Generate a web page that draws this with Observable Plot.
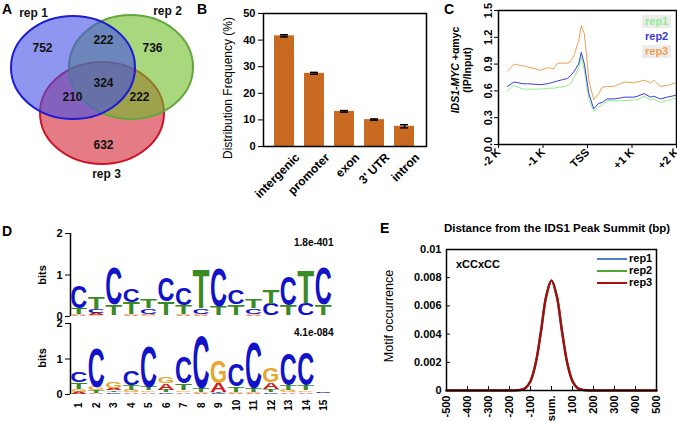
<!DOCTYPE html>
<html><head><meta charset="utf-8">
<script src="https://cdn.jsdelivr.net/npm/d3@7"></script>
<script src="https://cdn.jsdelivr.net/npm/@observablehq/plot@0.6"></script>
<style>
body{margin:0;background:#fff;}
#c{position:relative;width:677px;height:422px;overflow:hidden;background:#fff;font-family:"Liberation Sans",Arial,sans-serif;color:#000;}
.p{position:absolute;}
.t{position:absolute;line-height:1;white-space:nowrap;}
.rot{position:absolute;transform:translate(-50%,-50%) rotate(-90deg);white-space:nowrap;line-height:1.1;text-align:center;}
</style></head><body><div id="c"></div>
<script>
// ---------- DATA ----------
// A: Venn of peaks
const vennSets = ["rep 1", "rep 2", "rep 3"];
const vennCounts = [752, 222, 736, 324, 210, 222, 632]; // 1 only, 1&2, 2 only, all, 1&3, 2&3, 3 only

// B: genomic distribution
const regions = ["intergenic", "promoter", "exon", "3' UTR", "intron"];
const freq = [41.6, 27.5, 13.2, 10.1, 7.6];
const freqErr = [0.4, 0.35, 0.3, 0.25, 0.6];

// C: profile around TSS
const tssTicks = [-2000, -1000, 0, 1000, 2000];
const tssTickLabels = ["-2 K", "-1 K", "TSS", "+1 K", "+2 K"];
const tssPos = [-1800,-1650,-1450,-1350,-1050,-900,-750,-680,-600,-450,-380,-300,-200,-140,-70,30,140,250,330,440,590,740,820,1040,1120,1270,1420,1490,1640,1790,1980];
const profRep1 = [0.60,0.66,0.62,0.62,0.62,0.63,0.63,0.64,0.64,0.66,0.68,0.75,0.85,0.98,0.83,0.51,0.37,0.42,0.44,0.49,0.49,0.49,0.49,0.50,0.50,0.54,0.50,0.51,0.47,0.49,0.52];
const profRep2 = [0.65,0.70,0.68,0.68,0.67,0.68,0.70,0.71,0.72,0.74,0.77,0.82,0.90,1.03,0.90,0.57,0.40,0.46,0.47,0.51,0.51,0.52,0.53,0.53,0.54,0.57,0.53,0.54,0.51,0.53,0.55];
const profRep3 = [0.82,0.90,0.88,0.87,0.83,0.86,0.85,0.91,0.91,0.91,0.93,1.00,1.16,1.33,1.24,0.72,0.50,0.57,0.64,0.65,0.65,0.68,0.70,0.69,0.70,0.72,0.69,0.72,0.65,0.66,0.69];

// D: motif logos (bits per letter, positions 1..15)
const logo1A = [.02,.05,.01,.02,.03,.01,.02,.03,.01,.01,.03,.01,.01,.01,.01];
const logo1C = [.55,.08,.90,.32,.14,.59,.40,.14,.93,.36,.13,.28,.70,.30,.90];
const logo1G = [.03,.03,.01,.02,.02,.01,.03,.03,.01,.01,.03,.01,.01,.01,.01];
const logo1T = [.15,.28,.26,.30,.22,.33,.22,.96,.22,.27,.22,.34,.24,.79,.26];
const logo1E = "1.8e-401";
const logo2A = [.07,.03,.08,.05,.05,.19,.05,.03,.25,.03,.03,.20,.05,.05,.02];
const logo2C = [.28,1.13,.05,.42,1.15,.05,.75,1.50,.03,.65,1.32,.05,.90,.95,.02];
const logo2G = [.08,.10,.19,.07,.05,.20,.05,.03,.65,.04,.03,.40,.06,.05,.01];
const logo2T = [.20,.07,.05,.14,.10,.07,.20,.10,.03,.15,.12,.08,.15,.15,.01];
const logo2E = "4.1e-084";

// E: motif occurrence vs distance from summit
const distTicks = [-500,-400,-300,-200,-100,0,100,200,300,400,500];
const distPts = [-500,-200,-150,-125,-100,-75,-50,-25,0,25,50,75,100,125,150,200,500];
const occRep1 = [0,0,0.00003,0.00017,0.00067,0.00197,0.0042,0.0067,0.0078,0.0067,0.0042,0.00197,0.00067,0.00017,0.00003,0,0];
const occRep2 = [0,0,0.00003,0.00016,0.00066,0.00196,0.0042,0.0067,0.0078,0.0067,0.0042,0.00196,0.00066,0.00016,0.00003,0,0];
const occRep3 = [0,0,0.00003,0.00016,0.00066,0.00195,0.0042,0.0067,0.0078,0.0067,0.0042,0.00195,0.00066,0.00016,0.00003,0,0];
const occTicks = [0,0.002,0.004,0.006,0.008,0.01];

// ---------- LAYOUT / STYLE ----------
const C = document.getElementById("c");
const FONT = "'Liberation Sans', Arial, sans-serif";
const baseStyle = {fontFamily: FONT, fontSize: "11px", fontWeight: "bold", background: "transparent", overflow: "visible", color: "#000"};
function place(el, left, top) { el.classList.add("p"); el.style.left = left + "px"; el.style.top = top + "px"; C.appendChild(el); return el; }
function html(s, left, top, css) { const d = document.createElement("div"); d.className = "t"; d.innerHTML = s; d.style.left = left + "px"; d.style.top = top + "px"; if (css) d.style.cssText += css; C.appendChild(d); return d; }
function rot(s, cx, cy, css) { const d = document.createElement("div"); d.className = "rot"; d.innerHTML = s; d.style.left = cx + "px"; d.style.top = cy + "px"; if (css) d.style.cssText += css; C.appendChild(d); return d; }

// ---------- A ----------
const vennFill = ["#4450e4", "#6ebc28", "#d42434"];
const vennStroke = ["#1c1cd0", "#62a83c", "#cc1426"];
const vennEllipse = [{cx:73, cy:67.5, rx:62, ry:51.5}, {cx:131, cy:67, rx:62, ry:52}, {cx:102, cy:113, rx:62, ry:51}];
const vennNumPos = [[42,48],[103,40],[152,48],[103,83],[72,97],[139,97],[103,145]];
const vennLabPos = [[33,13],[167,11],[106,174]];
const plotA = Plot.plot({
  width: 200, height: 185, margin: 0,
  style: {...baseStyle},
  x: {domain: [0, 200], range: [0, 200], axis: null},
  y: {domain: [0, 185], range: [0, 185], axis: null},
  marks: [
    (index, scales) => {
      const g = d3.create("svg:g");
      for (const i of [2, 1, 0]) {
        const e = vennEllipse[i];
        g.append("ellipse")
          .attr("cx", scales.x(e.cx)).attr("cy", scales.y(e.cy))
          .attr("rx", scales.x(e.cx + e.rx) - scales.x(e.cx))
          .attr("ry", scales.y(e.cy + e.ry) - scales.y(e.cy))
          .attr("fill", vennFill[i]).attr("fill-opacity", 0.6)
          .attr("stroke", vennStroke[i]).attr("stroke-width", 2);
      }
      return g.node();
    },
    Plot.text(vennCounts, {x: (d, i) => vennNumPos[i][0], y: (d, i) => vennNumPos[i][1], text: d => String(d), fontSize: 12, fill: "#111"}),
    Plot.text(vennSets, {x: (d, i) => vennLabPos[i][0], y: (d, i) => vennLabPos[i][1], text: d => d, fontSize: 12, fill: "#111"})
  ]
});
place(plotA, 0, 0);

// ---------- B ----------
const bRows = regions.map((r, i) => ({region: r, f: freq[i], e: freqErr[i]}));
const plotB = Plot.plot({
  width: 250, height: 200, marginLeft: 83, marginRight: 4, marginTop: 13, marginBottom: 54,
  style: {...baseStyle},
  x: {domain: regions, padding: 0.33, axis: null},
  y: {domain: [0, 50], ticks: [0, 10, 20, 30, 40, 50], tickSize: 5, tickPadding: 3, label: null},
  marks: [
    Plot.barY(bRows, {x: "region", y: "f", fill: "#c96a22"}),
    Plot.ruleX(bRows, {x: "region", y1: d => d.f - d.e, y2: d => d.f + d.e, stroke: "#000", strokeWidth: 1.5}),
    Plot.tickY(bRows, {x: "region", y: d => d.f - d.e, insetLeft: 6, insetRight: 6, stroke: "#000", strokeWidth: 1.5}),
    Plot.tickY(bRows, {x: "region", y: d => d.f + d.e, insetLeft: 6, insetRight: 6, stroke: "#000", strokeWidth: 1.5}),
    Plot.text(bRows, {x: "region", y: 0, text: "region", rotate: -45, textAnchor: "end", dx: 13, dy: 9, fontSize: 12}),
    Plot.frame({stroke: "#000", strokeWidth: 1.5})
  ]
});
place(plotB, 180, 0);

// ---------- C ----------
const cColors = ["#90ee90", "#3c3cd8", "#f0a050"];
const plotC = Plot.plot({
  width: 247, height: 180, marginLeft: 68, marginRight: 1, marginTop: 10, marginBottom: 36,
  style: {...baseStyle},
  x: {domain: [-2000, 2000], ticks: tssTicks, tickFormat: d => tssTickLabels[tssTicks.indexOf(d)], tickRotate: -45, tickSize: 4, tickPadding: 2, label: null},
  y: {domain: [0, 1.5], ticks: [0, 0.3, 0.6, 0.9, 1.2, 1.5], tickFormat: d3.format(".1f"), tickRotate: -90, tickSize: 4, tickPadding: 3, label: null},
  marks: [
    Plot.line(profRep1, {x: (d, i) => tssPos[i], y: d => d, stroke: cColors[0], strokeWidth: 1}),
    Plot.line(profRep2, {x: (d, i) => tssPos[i], y: d => d, stroke: cColors[1], strokeWidth: 1}),
    Plot.line(profRep3, {x: (d, i) => tssPos[i], y: d => d, stroke: cColors[2], strokeWidth: 1}),
    Plot.frame({stroke: "#000", strokeWidth: 1.5})
  ]
});
place(plotC, 430, 0);

// ---------- D ----------
const letterColors = {A: "#d01c1c", C: "#1212c8", G: "#e8a530", T: "#3a8a26"};
function logoRows(A, Cc, G, T) {
  const rows = [];
  for (let i = 0; i < A.length; i++) {
    const items = [["A", A[i]], ["C", Cc[i]], ["G", G[i]], ["T", T[i]]].sort((a, b) => a[1] - b[1]);
    let y = 0;
    for (const [l, h] of items) { rows.push({pos: i + 1, letter: l, y1: y, y2: y + h}); y += h; }
  }
  return rows;
}
function logoMark(rows) {
  return (index, scales) => {
    const g = d3.create("svg:g");
    for (const d of rows) {
      const xc = scales.x(d.pos), yb = scales.y(d.y1), yt = scales.y(d.y2), h = yb - yt;
      if (h < 0.4) continue;
      const fs = 20, cap = 0.72 * fs, w = 17;
      g.append("text")
        .attr("transform", `translate(${xc},${yb}) scale(1,${h / cap})`)
        .attr("x", -w / 2).attr("y", 0)
        .attr("textLength", w).attr("lengthAdjust", "spacingAndGlyphs")
        .style("font-size", fs + "px").style("font-weight", "bold").style("font-family", FONT)
        .attr("text-anchor", "start").attr("fill", letterColors[d.letter]).text(d.letter);
    }
    return g.node();
  };
}
const positions = d3.range(1, 16);
function logoPlot(rows, evalue, h, mb, showX) {
  return Plot.plot({
    width: 340, height: h, marginLeft: 70, marginRight: 8, marginTop: 13, marginBottom: mb,
    style: {...baseStyle, fontSize: "11px"},
    x: {domain: [0.5, 15.5], axis: null},
    y: {domain: [0, 2], ticks: [0, 1, 2], tickFormat: d3.format("d"), tickSize: 5, tickPadding: 3, label: null},
    marks: [
      Plot.ruleX([0.5], {x: d => d, y1: 0, y2: 2, stroke: "#000", strokeWidth: 1.5}),
      logoMark(rows),
      Plot.text([evalue], {frameAnchor: "top-right", text: d => d, dy: 5, dx: 1, fontSize: 10}),
      ...(showX ? [Plot.text(positions, {x: d => d, y: -0.3, text: d => String(d), rotate: -90, fontSize: 10})] : [])
    ]
  });
}
place(logoPlot(logoRows(logo1A, logo1C, logo1G, logo1T), logo1E, 100, 4, false), 0, 220);
place(logoPlot(logoRows(logo2A, logo2C, logo2G, logo2T), logo2E, 112, 28, true), 0, 310);

// ---------- E ----------
const eColors = ["#4f7fc8", "#4ea72e", "#a01010"];
const plotE = Plot.plot({
  width: 307, height: 187, marginLeft: 76, marginRight: 21, marginTop: 14, marginBottom: 32,
  style: {...baseStyle},
  x: {domain: [-500, 500], ticks: distTicks, tickFormat: d => d === 0 ? "sum." : String(d), tickRotate: -90, tickSize: 0, tickPadding: 5, label: null},
  y: {domain: [0, 0.01], ticks: occTicks, tickFormat: d => d === 0 ? "0" : String(+d.toFixed(3)), tickSize: 0, tickPadding: 5, label: null},
  marks: [
    Plot.ruleX(distTicks, {x: d => d, y1: 0, y2: 0.00028, stroke: "#000", strokeWidth: 1}),
    Plot.ruleY(occTicks, {y: d => d, x1: -500, x2: -481, stroke: "#000", strokeWidth: 1}),
    Plot.line(occRep1, {x: (d, i) => distPts[i], y: d => d, stroke: eColors[0], strokeWidth: 2, curve: "catmull-rom"}),
    Plot.line(occRep2, {x: (d, i) => distPts[i], y: d => d, stroke: eColors[1], strokeWidth: 2, curve: "catmull-rom"}),
    Plot.line(occRep3, {x: (d, i) => distPts[i], y: d => d, stroke: eColors[2], strokeWidth: 2.5, curve: "catmull-rom"}),
    Plot.frame({stroke: "#000", strokeWidth: 1.5})
  ]
});
place(plotE, 370, 235);

// ---------- TEXT OVERLAYS ----------
const P = "font-weight:bold;font-size:14px;";
html("A", 2, 2, P); html("B", 197, 2, P); html("C", 444, 2, P); html("D", 2, 224, P); html("E", 380, 221, P);
rot("Distribution Frequency (%)", 229, 88, "font-size:12px;");
rot("<i>IDS1-MYC</i> +αmyc<br>(IP/Input)", 462, 70, "font-size:10.5px;font-weight:bold;");
rot("bits", 42, 275, "font-size:11px;font-weight:bold;");
rot("bits", 42, 358, "font-size:11px;font-weight:bold;");
rot("Motif occurrence", 390, 316, "font-size:12.5px;");
html("Distance from the IDS1 Peak Summit (bp)", 557, 223, "font-size:11.5px;font-weight:bold;transform:translateX(-50%);");
html("xCCxCC", 456, 259, "font-size:11px;font-weight:bold;");
// C legend
const cLeg = ["rep1", "rep2", "rep3"];
cLeg.forEach((s, i) => html(s, 642, 15 + i * 15, `font-size:11px;font-weight:bold;color:${cColors[i]};padding:1px 3px;${i !== 1 ? "background:#ececec;" : ""}`));
// E legend
cLeg.forEach((s, i) => {
  html("", 597, 258 + i * 12, `width:30px;height:0;border-top:2px solid ${eColors[i]};`);
  html(s, 629, 253 + i * 12, "font-size:11px;font-weight:bold;");
});
</script>
</body></html>
